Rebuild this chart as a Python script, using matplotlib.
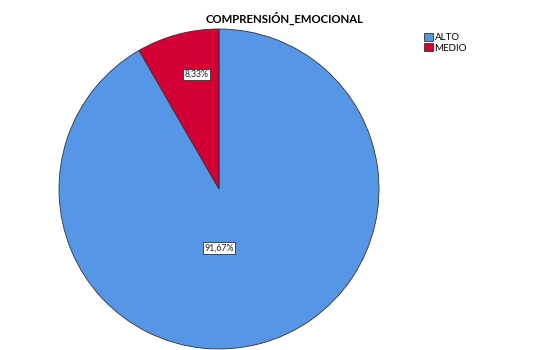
import numpy as np
import matplotlib.pyplot as plt
from matplotlib.patches import Patch

title = "COMPRENSIÓN_EMOCIONAL"
categories = ["ALTO", "MEDIO"]
values = [91.67, 8.33]
labels = ["91,67%", "8,33%"]
colors = ["#5596E6", "#D40035"]

plt.rcParams["font.family"] = ["Lato", "DejaVu Sans"]

fig = plt.figure(figsize=(5.5, 3.5), dpi=100)
ax = fig.add_axes([59 / 550, 1 / 350, 320 / 550, 320 / 350])

wedges, _ = ax.pie(
    values, colors=colors, startangle=90, counterclock=False,
    wedgeprops=dict(edgecolor="#333333", linewidth=0.6),
)
ax.set_xlim(-1, 1)
ax.set_ylim(-1, 1)
ax.set_aspect("equal")

# label positions: small slice near its middle, big slice below centre
for w, lab, dist in zip(wedges, labels, [0.37, 0.73]):
    if dist < 0.5:
        ang = np.deg2rad(270)
    else:
        ang = np.deg2rad((w.theta1 + w.theta2) / 2 - 4)
    ax.text(dist * np.cos(ang), dist * np.sin(ang), lab, ha="center", va="center",
            fontsize=6.3, color="#222222",
            bbox=dict(boxstyle="square,pad=0.15", fc="white", ec="#333333", lw=0.6))

fig.text(285 / 550, 1 - 18 / 350, title, ha="center", va="center",
         fontsize=8.2, fontweight="bold")

handles = [Patch(facecolor=c, edgecolor="#333333", linewidth=0.6) for c in colors]
fig.legend(handles, categories, loc="upper left", bbox_to_anchor=(417 / 550, 1 - 26 / 350),
           frameon=False, fontsize=7, handlelength=0.9, handleheight=0.9,
           handletextpad=0.2, labelspacing=0.1, borderpad=0.2)

fig.savefig("out.png", dpi=100)
